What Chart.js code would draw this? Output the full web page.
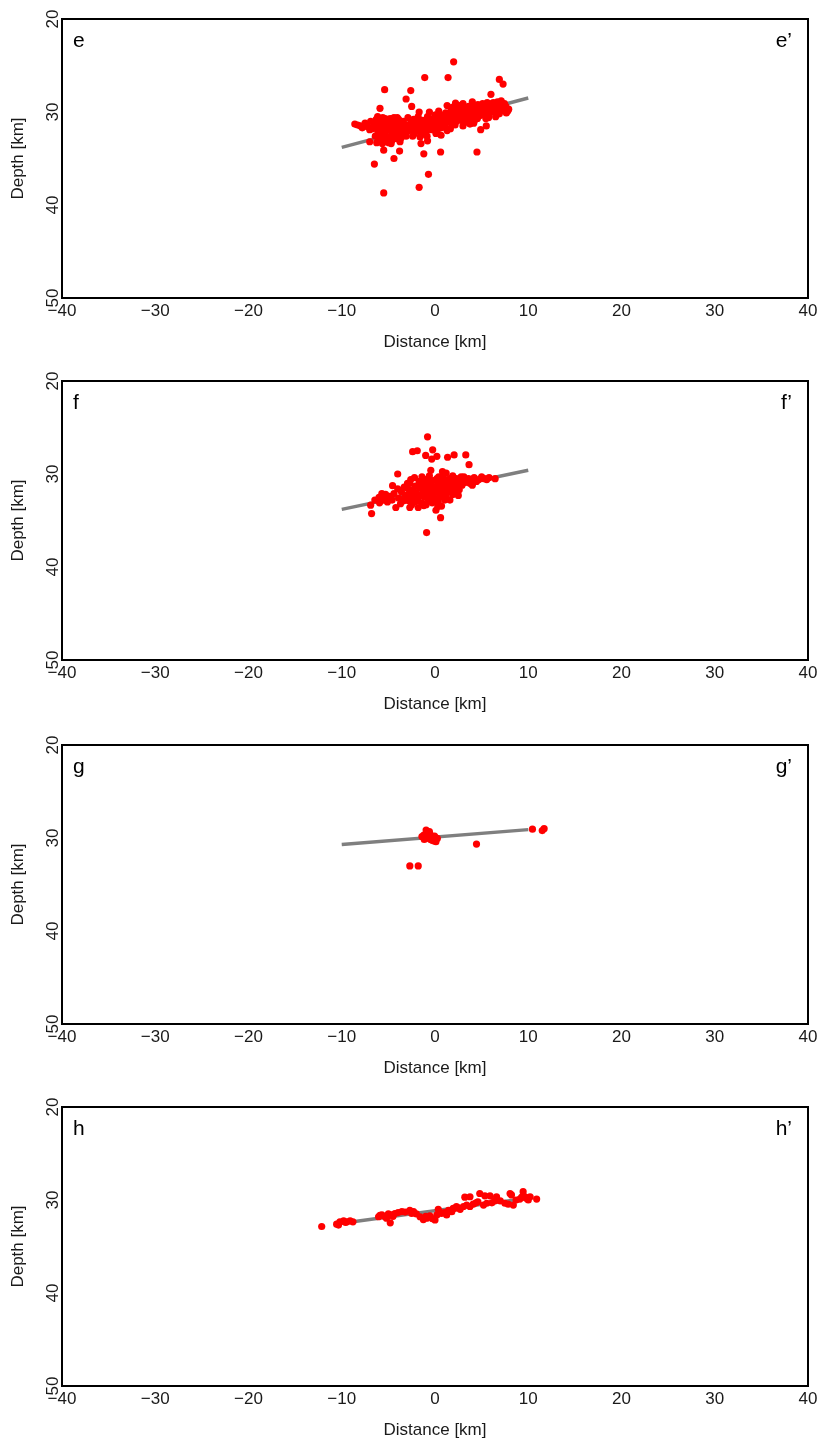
<!DOCTYPE html>
<html>
<head>
<meta charset="utf-8">
<title>Depth sections e–h</title>
<script src="https://cdn.jsdelivr.net/npm/chart.js@4.4.1/dist/chart.umd.min.js"></script>
<style>
  html, body { margin: 0; padding: 0; background: #fff; }
  body { width: 823px; height: 1448px; position: relative; overflow: hidden; }
  .panel { position: absolute; left: 0; width: 823px; height: 363px; }
</style>
</head>
<body>
<div class="panel" style="top:0px"><canvas id="sec-e" width="823" height="363"></canvas></div>
<div class="panel" style="top:362px"><canvas id="sec-f" width="823" height="363"></canvas></div>
<div class="panel" style="top:726px"><canvas id="sec-g" width="823" height="363"></canvas></div>
<div class="panel" style="top:1088px"><canvas id="sec-h" width="823" height="363"></canvas></div>
<script>
/* ============================================================
   Cross sections e-e' .. h-h' : hypocentre depth vs distance
   ============================================================ */

// --- axes ---
const distanceTicks = [-40, -30, -20, -10, 0, 10, 20, 30, 40];
const depthTicks = [20, 30, 40, 50];
const sectionTags = [['e', 'e\u2019'], ['f', 'f\u2019'], ['g', 'g\u2019'], ['h', 'h\u2019']];

// --- fitted trend of each section: [distance km, depth km] ---
const trendE = [[-10, 33.8], [10, 28.5]];
const trendF = [[-10, 33.8], [10, 29.6]];
const trendG = [[-10, 30.7], [10, 29.1]];
const trendH = [[-10, 32.5], [10, 29.8]];

// --- events: [distance km, depth km] ---
const eventsE = [
  // scattered
  [2.0, 24.6], [-1.1, 26.3], [1.4, 26.3], [6.9, 26.5], [7.3, 27.0], [-5.4, 27.6], [-2.6, 27.7],
  [-3.1, 28.6], [6.0, 28.1], [-5.9, 29.6], [-2.5, 29.4], [-1.7, 30.0], [-0.6, 30.0], [0.4, 29.9],
  [1.3, 29.3], [2.5, 29.3], [-8.3, 31.4], [-7.8, 31.7], [-7.0, 33.2], [-5.5, 34.1], [-3.8, 34.2],
  [-4.4, 35.0], [-6.5, 35.6], [-1.5, 33.4], [-0.8, 33.1], [-1.2, 34.5], [0.6, 34.3], [4.5, 34.3],
  [-0.7, 36.7], [-1.7, 38.1], [-5.5, 38.7], [4.9, 31.9], [5.5, 31.5], [7.9, 29.7], [6.5, 30.5],
  [3.0, 31.5], [-5.9, 33.0], [-4.7, 33.4],
  // western tail
  [-8.6, 31.3], [-8.0, 31.5], [-7.5, 31.2], [-7.2, 31.6], [-6.9, 31.0], [-6.7, 31.8], [-6.5, 31.4], [-7.0, 31.9],
  // western cluster
  [-6.3, 30.8], [-6.2, 31.5], [-6.1, 32.2], [-6.0, 33.0], [-5.9, 31.0], [-5.8, 31.9], [-5.7, 32.6],
  [-5.6, 30.6], [-5.5, 31.4], [-5.4, 32.3], [-5.3, 33.2], [-5.2, 30.9], [-5.1, 31.8], [-5.0, 32.7],
  [-4.9, 31.2], [-4.8, 30.7], [-4.7, 32.1], [-4.6, 33.0], [-4.5, 31.5], [-4.4, 30.6], [-4.3, 32.5],
  [-4.2, 31.1], [-4.1, 31.9], [-4.0, 32.9], [-3.9, 30.8], [-3.8, 31.6], [-3.7, 32.3], [-3.6, 31.2],
  [-3.5, 32.0], [-6.4, 32.6], [-5.95, 32.5], [-5.45, 30.9], [-5.15, 32.9], [-4.85, 31.7], [-4.55, 32.5],
  [-4.25, 30.9], [-3.95, 31.4], [-3.65, 32.8], [-5.75, 31.2], [-5.25, 31.6], [-4.75, 31.3], [-4.35, 31.8],
  [-6.05, 31.8], [-3.85, 32.2], [-4.65, 30.9], [-5.55, 32.0], [-5.05, 30.8], [-4.15, 32.4], [-3.55, 31.5],
  [-6.25, 33.3], [-6.35, 31.2], [-5.65, 33.4], [-5.35, 30.7], [-4.95, 33.3], [-4.45, 32.9], [-4.05, 30.6],
  [-3.75, 33.2], [-3.45, 32.5], [-6.15, 30.5], [-5.85, 32.8],
  // central band
  [-3.4, 31.0], [-3.3, 31.8], [-3.2, 32.4], [-3.0, 31.4], [-2.9, 30.6], [-2.8, 32.0], [-2.6, 31.2],
  [-2.5, 31.7], [-2.3, 30.8], [-2.2, 32.3], [-2.0, 31.3], [-1.9, 31.9], [-1.8, 30.5], [-1.6, 31.5],
  [-1.5, 32.2], [-1.3, 30.9], [-1.2, 31.6], [-1.0, 31.1], [-0.9, 32.0], [-0.8, 30.5], [-0.6, 31.4],
  [-0.5, 30.9], [-0.4, 31.9], [-0.2, 31.2], [-0.1, 30.6], [0.0, 31.6], [0.1, 32.3], [0.2, 30.9],
  [0.3, 31.3], [0.5, 30.4], [0.6, 31.0], [0.7, 31.7], [0.8, 30.7], [0.9, 31.2], [1.0, 30.3],
  [1.1, 31.5], [1.2, 30.8], [1.3, 32.0], [1.4, 30.5], [1.5, 31.1], [-2.7, 31.5], [-2.1, 30.9],
  [-1.4, 31.3], [-0.7, 31.7], [0.4, 30.8], [-3.1, 32.6], [-1.1, 32.4], [0.25, 32.0], [-1.7, 31.1],
  [-0.3, 31.0], [-2.4, 32.6], [-1.6, 32.7], [-0.85, 32.6], [0.05, 30.3], [0.65, 32.5], [1.15, 30.1],
  // eastern band
  [1.6, 30.6], [1.7, 29.9], [1.8, 31.2], [1.9, 30.2], [2.0, 30.8], [2.1, 29.7], [2.2, 30.4],
  [2.3, 31.0], [2.4, 30.1], [2.5, 30.6], [2.6, 29.6], [2.7, 30.3], [2.8, 30.9], [2.9, 29.9],
  [3.0, 30.5], [3.1, 29.5], [3.2, 30.2], [3.3, 30.8], [3.4, 29.8], [3.5, 30.4], [3.6, 29.4],
  [3.7, 30.0], [3.8, 30.7], [3.9, 29.6], [4.0, 30.2], [4.1, 29.3], [4.2, 29.9], [4.3, 30.5],
  [4.4, 29.5], [4.5, 30.1], [4.6, 29.2], [4.7, 29.8], [4.8, 30.4], [4.9, 29.4], [5.0, 30.0],
  [2.15, 31.4], [3.25, 31.1], [3.75, 31.3], [4.25, 30.9], [1.85, 29.5], [2.75, 29.3], [4.55, 30.7],
  [1.65, 31.8], [2.35, 29.4], [3.55, 31.0], [4.15, 31.2], [3.0, 29.1], [4.0, 28.9], [2.2, 29.05],
  [5.1, 29.1], [5.2, 29.7], [5.3, 30.3], [5.4, 29.4], [5.5, 29.9], [5.6, 29.0], [5.7, 29.6],
  [5.8, 30.2], [5.9, 29.3], [6.0, 29.8], [6.1, 29.1], [6.2, 29.5], [6.3, 30.0], [6.4, 29.2],
  [6.6, 29.7], [6.8, 29.4], [7.0, 29.9], [7.2, 29.2], [7.4, 29.6], [7.6, 29.4], [7.8, 29.9],
  [6.9, 30.2], [5.75, 30.6], [6.7, 28.9], [7.1, 28.8], [5.05, 29.3], [5.45, 30.7], [6.25, 29.0],
  [7.45, 29.1], [7.65, 30.1]
];

const eventsF = [
  // scattered
  [-0.8, 26.0], [-2.4, 27.6], [-1.9, 27.5], [-0.25, 27.4], [-1.0, 28.0], [-0.35, 28.4], [0.2, 28.1],
  [1.35, 28.2], [2.05, 27.95], [3.3, 27.95], [3.65, 29.0], [-4.0, 30.0], [-0.45, 29.6], [0.8, 29.75],
  [3.1, 30.3], [-4.55, 31.25], [-5.7, 32.1], [-6.45, 32.8], [-6.9, 33.35], [-6.8, 34.25], [-4.2, 33.6],
  [-2.7, 33.6], [-1.8, 33.6], [0.1, 33.9], [0.7, 33.45], [0.6, 34.7], [-0.9, 36.3], [6.45, 30.5],
  [5.55, 30.6], [5.1, 30.45], [4.45, 30.8], [3.75, 31.0],
  // western part
  [-6.0, 32.5], [-5.8, 32.9], [-5.5, 32.6], [-5.3, 32.2], [-5.1, 33.0], [-4.9, 32.4], [-4.6, 32.8],
  [-4.4, 32.1], [-3.9, 32.6], [-3.6, 31.9], [-3.4, 32.9], [-3.2, 32.3], [-5.95, 33.1], [-5.35, 32.8],
  [-4.0, 31.6], [-3.7, 33.2], [-3.3, 31.4],
  // core
  [-3.0, 31.5], [-2.9, 32.2], [-2.8, 32.9], [-2.7, 31.0], [-2.5, 31.7], [-2.4, 32.5], [-2.2, 33.0],
  [-2.1, 31.3], [-2.0, 32.0], [-1.9, 32.7], [-1.7, 30.8], [-1.6, 31.5], [-1.5, 32.3], [-1.4, 33.1],
  [-1.3, 31.0], [-1.2, 31.8], [-1.1, 32.5], [-1.0, 30.6], [-0.9, 31.3], [-0.8, 32.0], [-0.7, 32.8],
  [-0.6, 30.9], [-0.5, 31.6], [-0.4, 32.3], [-0.3, 33.1], [-0.2, 30.7], [-0.1, 31.4], [0.0, 32.0],
  [0.1, 32.7], [0.2, 30.5], [0.3, 31.2], [0.4, 31.9], [0.5, 32.5], [0.6, 30.8], [0.7, 31.5],
  [0.8, 32.2], [0.9, 30.4], [1.0, 31.1], [1.1, 31.8], [1.2, 32.4], [1.3, 30.7], [1.4, 31.3],
  [1.5, 31.9], [1.6, 30.5], [1.7, 31.0], [1.8, 31.6], [1.9, 32.2], [2.0, 30.7], [2.1, 31.3],
  [2.3, 30.5], [2.4, 31.1], [2.6, 31.7], [2.7, 30.8], [2.9, 31.2], [3.0, 30.6], [-2.6, 30.6],
  [-1.8, 32.9], [-0.95, 33.3], [0.35, 33.0], [1.05, 32.8], [-2.3, 31.9], [-1.35, 31.6], [-0.45, 31.1],
  [0.55, 31.7], [1.55, 31.2], [-0.15, 32.5], [0.85, 30.9], [-1.55, 30.9], [2.2, 31.8], [-2.95, 31.0],
  [-2.2, 30.4], [-1.4, 30.3], [-0.6, 30.2], [0.4, 30.3], [1.2, 29.9], [-2.5, 33.3], [-1.2, 33.4],
  [0.3, 33.5], [1.6, 32.8], [2.5, 32.3], [1.9, 30.2], [2.8, 30.3],
  // eastern tail
  [3.3, 30.9], [3.6, 30.5], [3.9, 30.7], [4.2, 30.4], [4.7, 30.6], [5.0, 30.3], [5.3, 30.5],
  [5.8, 30.4], [4.0, 31.2]
];

const eventsG = [
  [-0.95, 29.15], [-1.2, 29.7], [-0.8, 29.45], [-0.55, 29.55], [-0.35, 29.85], [-0.7, 30.05],
  [-0.2, 30.3], [0.1, 30.4], [-1.05, 29.95], [-1.4, 29.85], [-0.05, 29.8], [0.25, 30.05],
  [-0.45, 30.2], [-0.9, 29.75], [-0.6, 29.3], [-1.15, 30.15],
  [4.45, 30.65], [10.45, 29.05], [11.5, 29.2], [11.7, 29.0], [-2.7, 33.0], [-1.8, 33.0]
];

const eventsH = [
  [-12.15, 32.85], [-10.55, 32.6], [-10.2, 32.35], [-9.8, 32.25], [-9.45, 32.35], [-9.1, 32.25],
  [-8.8, 32.35], [-10.35, 32.7], [-9.6, 32.4],
  [-6.05, 31.8], [-5.7, 31.6], [-5.35, 31.8], [-5.0, 31.5], [-4.65, 31.6], [-4.8, 32.45],
  [-4.3, 31.45], [-3.95, 31.35], [-3.55, 31.25], [-5.2, 31.95], [-5.9, 31.65], [-2.7, 31.1],
  [-2.3, 31.25], [-2.5, 31.45], [-4.5, 31.75], [-3.2, 31.3], [-2.0, 31.5],
  [-1.6, 31.8], [-1.25, 32.1], [-0.9, 31.95], [-0.55, 31.7], [0.0, 32.15], [0.2, 31.6],
  [0.35, 31.0], [0.7, 31.45], [1.25, 31.6], [1.45, 31.1], [1.8, 31.25], [1.95, 30.9],
  [2.3, 30.7], [2.7, 31.0], [3.05, 30.7], [3.4, 30.55], [3.75, 30.7], [4.1, 30.45],
  [-1.0, 31.75], [-0.3, 32.0], [0.5, 31.3], [1.0, 31.35], [2.1, 30.9], [2.5, 30.85],
  [3.2, 29.7], [3.75, 29.65], [4.8, 29.3], [5.35, 29.55], [5.9, 29.55], [6.6, 29.65],
  [5.2, 30.55], [5.55, 30.35], [4.4, 30.3], [4.6, 30.2], [6.1, 30.3], [6.4, 30.1], [7.0, 30.1],
  [7.5, 30.35], [7.85, 30.45], [8.4, 30.55], [8.05, 29.3], [8.2, 29.45], [8.7, 30.0],
  [9.45, 29.1], [9.65, 29.65], [10.0, 30.0], [10.2, 29.65], [10.9, 29.9], [9.1, 29.9],
  [9.8, 29.8], [9.3, 29.7]
];

// =========================================================
// Shared styling
// =========================================================
const FONT = '"Liberation Sans", Arial, Helvetica, sans-serif';
const INK = '#1a1a1a';
const FRAME = { display: true, color: '#000', width: 2 };
const TEXT_SIZE = 17;

// section letters in the upper corners of the frame
const cornerTags = {
  id: 'cornerTags',
  afterDraw(chart, args, opts) {
    const { ctx, chartArea: a } = chart;
    ctx.save();
    ctx.font = `21px ${FONT}`;
    ctx.fillStyle = '#000';
    ctx.textBaseline = 'alphabetic';
    ctx.textAlign = 'left';
    ctx.fillText(opts.left, a.left + 11, a.top + 28);
    ctx.textAlign = 'right';
    ctx.fillText(opts.right, a.right - 16, a.top + 28);
    ctx.restore();
  }
};

const toXY = pts => pts.map(([x, d]) => ({ x, y: d }));

// =========================================================
// One section chart
// =========================================================
function makeSection(canvasId, events, trend, tags) {
  return new Chart(document.getElementById(canvasId), {
    type: 'scatter',
    data: {
      datasets: [
        {
          data: toXY(events),
          backgroundColor: '#ff0000',
          borderWidth: 0,
          pointRadius: 3.6,
          order: 1,
        },
        {
          type: 'line',
          data: toXY(trend),
          borderColor: '#7f7f7f',
          borderWidth: 3.5,
          borderCapStyle: 'butt',
          pointRadius: 0,
          showLine: true,
          fill: false,
          order: 2,
        },
      ],
    },
    options: {
      responsive: false,
      animation: false,
      devicePixelRatio: 1,
      layout: { padding: { top: 19, right: 15, left: 0, bottom: 0 } },
      plugins: {
        legend: { display: false },
        tooltip: { enabled: false },
        cornerTags: { left: tags[0], right: tags[1] },
      },
      scales: {
        x: {
          type: 'linear', position: 'bottom', min: -40, max: 40,
          afterBuildTicks: s => { s.ticks = distanceTicks.map(v => ({ value: v })); },
          afterFit: s => { s.height = 65; },
          grid: { display: false, drawTicks: false },
          border: FRAME,
          ticks: {
            color: INK, font: { family: FONT, size: TEXT_SIZE }, padding: 3,
            maxRotation: 0, autoSkip: false,
            callback: v => String(v).replace('-', '\u2212'),
          },
          title: {
            display: true, text: 'Distance [km]', color: INK,
            font: { family: FONT, size: TEXT_SIZE }, padding: { top: 0, bottom: 10 },
          },
        },
        y: {
          type: 'linear', position: 'left', min: 20, max: 50, reverse: true,
          afterBuildTicks: s => { s.ticks = depthTicks.map(v => ({ value: v })); },
          afterFit: s => { s.width = 62; },
          grid: { display: false, drawTicks: false },
          border: FRAME,
          ticks: {
            color: INK, font: { family: FONT, size: TEXT_SIZE }, padding: -1,
            minRotation: 90, maxRotation: 90, crossAlign: 'center', autoSkip: false,
          },
          title: {
            display: true, text: 'Depth [km]', color: INK,
            font: { family: FONT, size: TEXT_SIZE }, padding: { top: 8, bottom: 0 },
          },
        },
        // top and right edges of the frame
        xTop: {
          type: 'linear', position: 'top', min: -40, max: 40,
          afterFit: s => { s.height = 0; },
          grid: { display: false, drawTicks: false },
          border: FRAME,
          ticks: { display: false },
        },
        yRight: {
          type: 'linear', position: 'right', min: 20, max: 50, reverse: true,
          afterFit: s => { s.width = 0; },
          grid: { display: false, drawTicks: false },
          border: FRAME,
          ticks: { display: false },
        },
      },
    },
    plugins: [cornerTags],
  });
}

makeSection('sec-e', eventsE, trendE, sectionTags[0]);
makeSection('sec-f', eventsF, trendF, sectionTags[1]);
makeSection('sec-g', eventsG, trendG, sectionTags[2]);
makeSection('sec-h', eventsH, trendH, sectionTags[3]);
</script>
</body>
</html>
